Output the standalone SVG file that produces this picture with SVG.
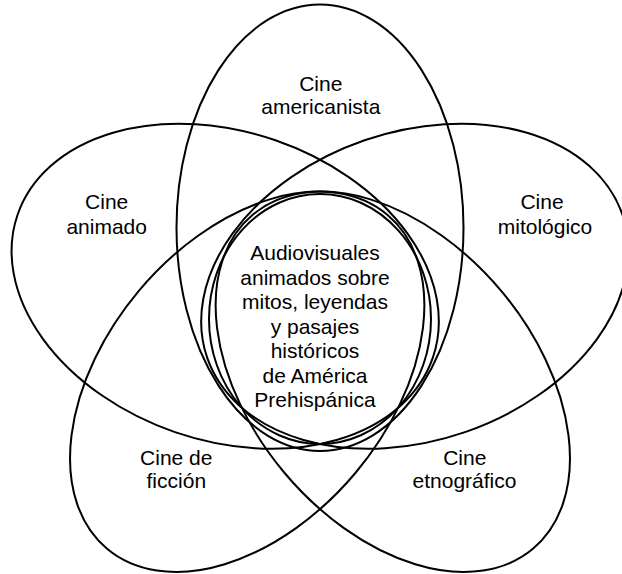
<svg xmlns="http://www.w3.org/2000/svg" width="622" height="574" viewBox="0 0 622 574">
<style>
.e{fill:none;stroke:#000;stroke-width:2}
text{font-family:"Liberation Sans",Arial,sans-serif;font-size:21px;fill:#000;text-anchor:middle}
</style>
<rect width="622" height="574" fill="#fff"/>
<g id="edges"/>
<g id="americanista">
<ellipse class="e" cx="320" cy="227.75" rx="143.5" ry="223.25"/>
<text x="320.8" y="90.5">Cine</text>
<text x="320.8" y="114">americanista</text>
</g>
<g id="animado">
<ellipse class="e" cx="225.2" cy="286.2" rx="219.6" ry="154.3" transform="rotate(19 225.2 286.2)"/>
<text x="106.7" y="209.3">Cine</text>
<text x="106.7" y="234.3">animado</text>
</g>
<g id="mitologico">
<ellipse class="e" cx="414.8" cy="286.2" rx="219.6" ry="154.3" transform="rotate(-19 414.8 286.2)"/>
<text x="542" y="209.3">Cine</text>
<text x="545" y="234.3">mitológico</text>
</g>
<g id="ficcion">
<ellipse class="e" cx="247.2" cy="381.8" rx="218" ry="141.5" transform="rotate(-50 247.2 381.8)"/>
<text x="176.3" y="465">Cine de</text>
<text x="176.3" y="488.3">ficción</text>
</g>
<g id="etnografico">
<ellipse class="e" cx="392.8" cy="381.8" rx="218" ry="141.5" transform="rotate(50 392.8 381.8)"/>
<text x="464.8" y="465">Cine</text>
<text x="464.5" y="488.3">etnográfico</text>
</g>
<g id="centro">
<ellipse class="e" cx="320" cy="319" rx="111" ry="125"/>
<text x="315" y="260">Audiovisuales</text>
<text x="315" y="284.5">animados sobre</text>
<text x="315" y="309">mitos, leyendas</text>
<text x="315" y="333.5">y pasajes</text>
<text x="315" y="358">históricos</text>
<text x="315" y="382.5">de América</text>
<text x="315" y="407">Prehispánica</text>
</g>
</svg>
